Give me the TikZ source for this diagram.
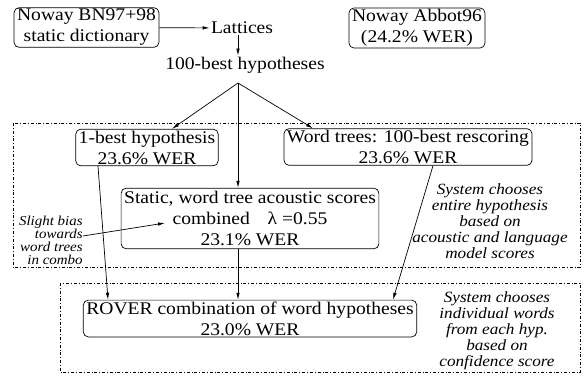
\documentclass[tikz,border=0pt]{standalone}
\usepackage{fontspec}
\setmainfont[FakeStretch=1.1]{Liberation Serif}
\usetikzlibrary{arrows.meta}
\begin{document}
\begin{tikzpicture}[x=1pt, y=-1pt, line width=0.7pt, >={Latex[length=7pt,width=3.5pt]},
    box/.style={rectangle, draw, rounded corners=5pt, inner xsep=3pt, inner ysep=1.5pt, align=center, font=\fontsize{17.8}{21}\selectfont},
    plain/.style={inner sep=1pt, font=\fontsize{17.8}{21}\selectfont},
    note/.style={inner sep=0pt, font=\fontsize{15.6}{16}\selectfont\itshape},
    smallnote/.style={inner sep=0pt, font=\fontsize{13.6}{13}\selectfont\itshape}]
    \useasboundingbox (0,0) rectangle (586,375);
    \draw[dashdotted] (13,123) rectangle (580,267);
    \draw[dashdotted] (60,283) rectangle (580,372);

    \node[box] (dict) at (86.5,27.5) {Noway BN97+98\\static dictionary};
    \node[plain] (lat) at (242,28) {Lattices};
    \node[plain] (nbest) at (245,65) {100-best hypotheses};
    \node[box] (abbot) at (417,28) {Noway Abbot96\\(24.2\% WER)};
    \node[box] (onebest) at (147,147.5) {1-best hypothesis\\23.6\% WER};
    \node[box] (trees) at (408,147) {Word trees: 100-best rescoring\\23.6\% WER};
    \node[box, inner ysep=3pt] (static) at (250,218.5) {Static, word tree acoustic scores\\combined\quad λ =0.55\\23.1\% WER};
    \node[box] (rover) at (250,318.5) {ROVER combination of word hypotheses\\23.0\% WER};
    \node[smallnote, align=right, anchor=east] (bias) at (83,240) {Slight bias\\towards\\word trees\\in combo};
    \node[note, align=center] (wholenote) at (490,221) {System chooses\\entire hypothesis\\based on\\acoustic and language\\model scores};
    \node[note, align=center] (wordnote) at (497,331) {System chooses\\individual words\\from each hyp.\\based on\\confidence score};
    \coordinate (fan) at (238,83);
    \coordinate (combo) at (165,223);

    \draw[->] (dict) -- (lat);
    \draw[->] (lat.south -| fan) -- (nbest.north -| fan);
    \draw[->] (fan) -- ([xshift=25pt]onebest.north);
    \draw[->] (fan) -- ([xshift=-95pt]trees.north);
    \draw[->] (fan) -- (fan |- static.north);
    \draw[->] ([xshift=-49pt]onebest.south) -- ([xshift=-142pt]rover.north);
    \draw[->] (static.south -| fan) -- (rover.north -| fan);
    \draw[->] ([xshift=25pt]trees.south) -- ([xshift=143pt]rover.north);
    \draw[->] ([yshift=4pt]bias.east) -- (combo);
\end{tikzpicture}
\end{document}
